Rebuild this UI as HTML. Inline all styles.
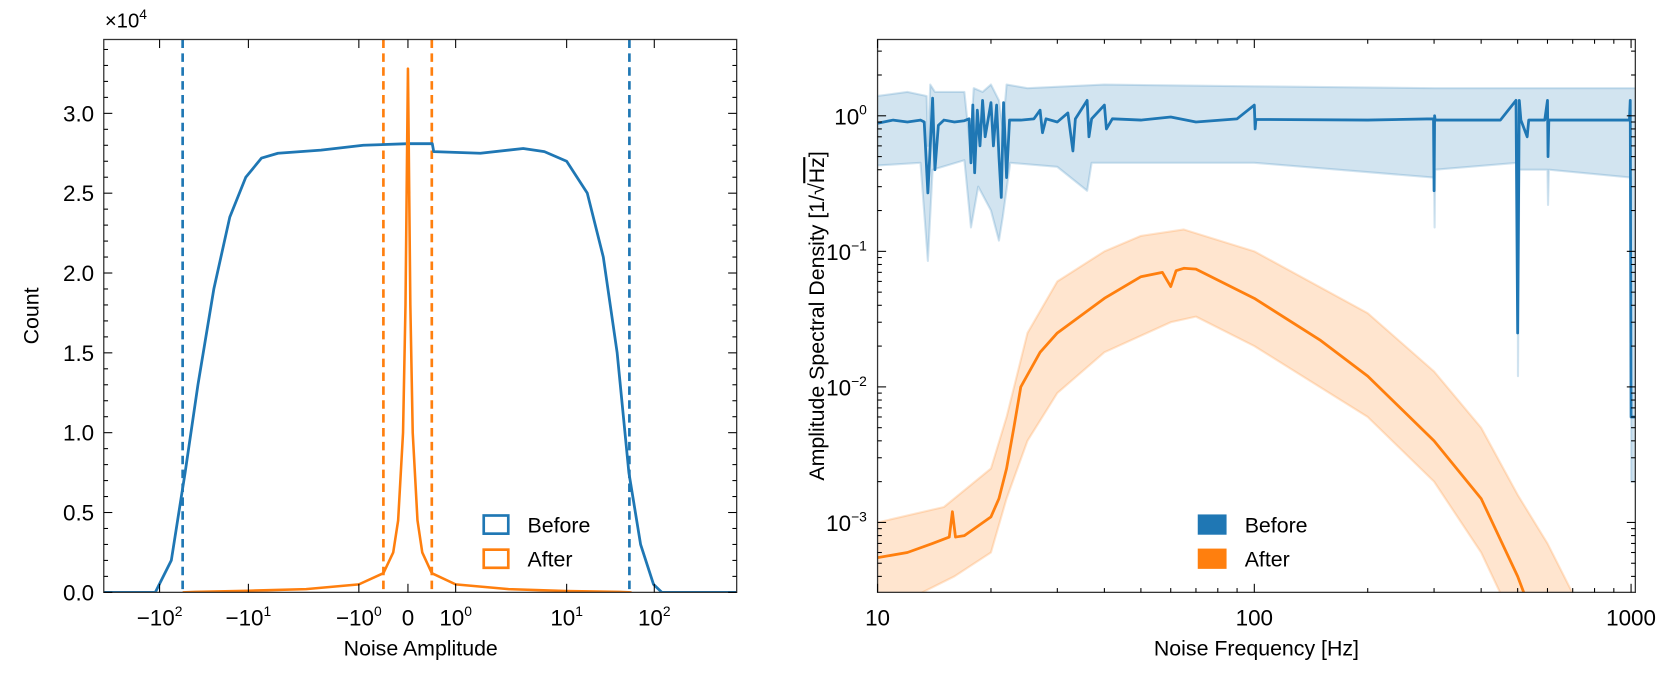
<!DOCTYPE html>
<html><head><meta charset="utf-8"><style>
html,body{margin:0;padding:0;background:#fff;}
svg{display:block;font-family:"Liberation Sans",sans-serif;}
</style></head><body>
<svg id="fig" width="1674" height="682" viewBox="0 0 1568 639" xmlns="http://www.w3.org/2000/svg">
<g id="left"></g>
<g id="right"></g>
</svg>
<script>
// ---------- Left chart data ----------
const histTickVals = [-100, -10, -1, 0, 1, 10, 100];
const histTickLabels = ["\u221210<tspan dy='-9' font-size='13'>2</tspan>", "\u221210<tspan dy='-9' font-size='13'>1</tspan>", "\u221210<tspan dy='-9' font-size='13'>0</tspan>", "0", "10<tspan dy='-9' font-size='13'>0</tspan>", "10<tspan dy='-9' font-size='13'>1</tspan>", "10<tspan dy='-9' font-size='13'>2</tspan>"];
const countTicks = [0, 0.5, 1.0, 1.5, 2.0, 2.5, 3.0];
const beforeX = [-430, -112, -73.8, -51.6, -37, -24.5, -16.2, -10.7, -7.6, -5.4, -2.2, -0.91, 0, 0.51, 0.54, 1.67, 4.06, 6.3, 10, 17.2, 26.2, 37.7, 51.3, 69.8, 98, 122, 870];
const beforeCount = [0, 0, 0.2, 0.75, 1.3, 1.9, 2.35, 2.6, 2.72, 2.75, 2.77, 2.8, 2.81, 2.81, 2.76, 2.75, 2.78, 2.76, 2.7, 2.5, 2.1, 1.5, 0.75, 0.3, 0.05, 0, 0];
const afterX = [-55, -40, -10, -3, -1, -0.5, -0.3, -0.2, -0.1, -0.05, -0.02, 0, 0.02, 0.05, 0.1, 0.2, 0.3, 0.5, 1, 3, 10, 40, 55];
const afterCount = [0, 0.003, 0.01, 0.02, 0.05, 0.12, 0.25, 0.45, 1.0, 1.8, 2.7, 3.28, 2.7, 1.8, 1.0, 0.45, 0.25, 0.12, 0.05, 0.02, 0.008, 0.003, 0];
const beforeLimits = [-55, 52];
const afterLimits = [-0.5, 0.5];

// ---------- Right chart data ----------
const freqTicks = [10, 100, 1000];
const asdTickExp = [0, -1, -2, -3];
const beforeF = [10,11,12,13,13.3,13.6,13.8,14,14.2,14.5,15,16,17,17.5,17.7,17.9,18.1,18.4,18.7,19,19.3,19.6,20,20.3,20.7,21,21.3,21.6,22,22.4,24,26,27,27.4,28,30,32,33,33.5,36,36.4,37,40,40.5,42,50,60,70,90,100,100.5,101,200,299,300,301,302,450,495,500,505,510,530,535,590,600,602,605,990,995,1000,1026];
const beforeASD = [0.88,0.93,0.9,0.93,0.9,0.27,0.6,1.35,0.4,0.85,0.93,0.9,0.92,0.95,0.45,1.2,0.38,1.1,0.6,1.3,0.7,0.9,1.25,0.6,1.2,0.5,0.25,1.25,0.35,0.93,0.93,0.95,1.1,0.75,0.95,0.9,1.05,0.55,0.95,1.3,0.7,0.95,1.2,0.8,0.95,0.93,0.98,0.9,0.95,1.2,0.8,0.94,0.93,0.95,0.28,1.0,0.93,0.93,1.3,0.025,1.3,0.93,0.7,0.93,0.93,1.3,0.5,0.93,0.93,1.3,0.006,0.006];
const beforeUpF = [10,12,13.5,13.6,13.8,14.2,17,17.6,18,19,20,21,21.5,22,25,40,100,300,500,1000,1026];
const beforeUp = [1.4,1.5,1.4,0.6,1.7,1.5,1.5,0.6,1.6,1.5,1.7,1.3,0.8,1.7,1.6,1.7,1.65,1.6,1.6,1.6,1.6];
const beforeLoF = [10,13,13.6,14,17,17.7,18.5,20,21,21.5,22.5,30,36,37,100,300,301,302,500,501,505,600,602,605,1000,1001,1026];
const beforeLo = [0.43,0.45,0.085,0.4,0.47,0.15,0.3,0.2,0.12,0.18,0.45,0.42,0.28,0.45,0.45,0.35,0.15,0.4,0.45,0.012,0.4,0.4,0.22,0.4,0.35,0.002,0.002];
const afterF = [10,12,14,15.5,15.8,16.1,17,20,21,22,23,24,27,30,40,50,57,60,62,65,70,100,150,200,300,400,500,520];
const afterASD = [0.00055,0.0006,0.0007,0.00078,0.0012,0.00078,0.0008,0.0011,0.0015,0.0025,0.005,0.01,0.018,0.025,0.045,0.065,0.07,0.055,0.072,0.075,0.074,0.045,0.022,0.012,0.004,0.0015,0.0004,0.0003];
const afterUpF = [10,15,20,22,25,30,40,50,65,100,200,300,400,500,600,700];
const afterUp = [0.001,0.0013,0.0025,0.006,0.025,0.06,0.1,0.13,0.145,0.1,0.035,0.013,0.005,0.0016,0.0007,0.0003];
const afterLoF = [10,13,16,20,22,25,30,40,60,70,100,200,300,400,450];
const afterLo = [0.0003,0.0003,0.0004,0.0006,0.0015,0.004,0.009,0.018,0.03,0.033,0.02,0.006,0.002,0.0006,0.0003];

const NS = "http://www.w3.org/2000/svg";
const BLUE = "#1f77b4", ORANGE = "#ff7f0e";
const TICK_FS = 21, TITLE_FS = 20;
function mk(parent, tag, attrs) {
  const e = document.createElementNS(NS, tag);
  for (const k in attrs) e.setAttribute(k, attrs[k]);
  parent.appendChild(e);
  return e;
}

// ----- left axes -----
const L = {x0: 97, x1: 690, y0: 37, y1: 555};
const anchorsV = [-100, -10, -1, 0, 1, 10, 100];
const anchorsP = [149.3, 232.5, 336, 382, 426.7, 530.7, 612.8];
function xL(v) {
  if (v <= -100) return 149.3 - 82 * Math.log10(-v / 100);
  if (v >= 100) return 612.8 + 82 * Math.log10(v / 100);
  for (let i = 0; i < anchorsV.length - 1; i++) {
    const a = anchorsV[i], b = anchorsV[i + 1];
    if (v >= a && v <= b) {
      const pa = anchorsP[i], pb = anchorsP[i + 1];
      let t;
      if (a >= -1 && b <= 1) t = (v - a) / (b - a);
      else if (b <= -1) t = (Math.log10(-a) - Math.log10(-v)) / (Math.log10(-a) - Math.log10(-b));
      else t = (Math.log10(v) - Math.log10(a)) / (Math.log10(b) - Math.log10(a));
      return pa + t * (pb - pa);
    }
  }
}
function yL(c) { return 555 - c * 149.6; }

const gl = document.getElementById('left');
const cpl = mk(gl, 'clipPath', {id: 'clipL'});
mk(cpl, 'rect', {x: L.x0, y: L.y0, width: L.x1 - L.x0, height: L.y1 - L.y0});
const glc = mk(gl, 'g', {'clip-path': 'url(#clipL)'});

for (const v of beforeLimits) {
  const l = mk(glc, 'line', {x1: xL(v), x2: xL(v), y1: L.y0, y2: L.y1, stroke: BLUE, 'stroke-width': 2.5, 'stroke-dasharray': '8,5'});
  
  
}
for (const v of afterLimits) {
  const l = mk(glc, 'line', {x1: xL(v), x2: xL(v), y1: L.y0, y2: L.y1, stroke: ORANGE, 'stroke-width': 2.5, 'stroke-dasharray': '8,5'});
  
  
}
function poly(parent, xs, ys, fx, fy, color, w) {
  const pts = xs.map((x, i) => fx(x).toFixed(2) + ',' + fy(ys[i]).toFixed(2)).join(' ');
  return mk(parent, 'polyline', {points: pts, fill: 'none', stroke: color, 'stroke-width': w, 'stroke-linejoin': 'round'});
}
const pb = poly(glc, beforeX, beforeCount, xL, yL, BLUE, 2.6);


const pa = poly(glc, afterX, afterCount, xL, yL, ORANGE, 2.4);



const fl = mk(gl, 'rect', {x: L.x0, y: L.y0, width: L.x1 - L.x0, height: L.y1 - L.y0, fill: 'none', stroke: '#333', 'stroke-width': 1.2});


histTickVals.forEach((v, i) => {
  const x = xL(v);
  mk(gl, 'line', {x1: x, x2: x, y1: L.y1, y2: L.y1 - 8, stroke: '#000', 'stroke-width': 1});
  mk(gl, 'line', {x1: x, x2: x, y1: L.y0, y2: L.y0 + 8, stroke: '#000', 'stroke-width': 1});
  const t = mk(gl, 'text', {x: x, y: 586, 'text-anchor': 'middle', 'font-size': TICK_FS});
  t.innerHTML = histTickLabels[i];
  
  
});
for (let k = 0; k <= 34; k++) {
  const c = k / 10, y = yL(c), major = k % 5 === 0;
  const len = major ? 8 : 4;
  mk(gl, 'line', {x1: L.x0, x2: L.x0 + len, y1: y, y2: y, stroke: '#000', 'stroke-width': 1});
  mk(gl, 'line', {x1: L.x1, x2: L.x1 - len, y1: y, y2: y, stroke: '#000', 'stroke-width': 1});
}
countTicks.forEach(c => {
  const t = mk(gl, 'text', {x: 88, y: yL(c) + 7.5, 'text-anchor': 'end', 'font-size': TICK_FS});
  t.textContent = c.toFixed(1);
  
  
});
const off = mk(gl, 'text', {x: 98, y: 26, 'font-size': 19});
off.innerHTML = "\u00d710<tspan dy='-8' font-size='13'>4</tspan>";


const ylab = mk(gl, 'text', {x: 0, y: 0, 'font-size': TITLE_FS, 'text-anchor': 'middle', transform: 'translate(36,296) rotate(-90)'});
ylab.textContent = 'Count';


const xlab = mk(gl, 'text', {x: 394, y: 614, 'font-size': TITLE_FS, 'text-anchor': 'middle'});
xlab.textContent = 'Noise Amplitude';


const legL = mk(gl, 'g', {});


[['Before', BLUE, 483], ['After', ORANGE, 515]].forEach(([n, c, y]) => {
  const g = mk(legL, 'g', {});
  
  
  mk(g, 'rect', {x: 453, y: y, width: 23, height: 17, fill: 'none', stroke: c, 'stroke-width': 2.5});
  const t = mk(g, 'text', {x: 494, y: y + 16, 'font-size': TITLE_FS});
  t.textContent = n;
});

// ----- right axes -----
const R = {x0: 822, x1: 1532, y0: 37, y1: 555};
function xR(f) { return 822 + 353 * Math.log10(f / 10); }
function yR(v) { return 108.5 - 127 * Math.log10(v); }
const gr = document.getElementById('right');
const cp = mk(gr, 'clipPath', {id: 'clipR'});
mk(cp, 'rect', {x: R.x0, y: R.y0, width: R.x1 - R.x0, height: R.y1 - R.y0});
const grc = mk(gr, 'g', {'clip-path': 'url(#clipR)'});
function band(parent, fu, vu, fl2, vl, color, name) {
  const up = fu.map((f, i) => xR(f).toFixed(2) + ',' + yR(vu[i]).toFixed(2));
  const lo = fl2.map((f, i) => xR(f).toFixed(2) + ',' + yR(vl[i]).toFixed(2)).reverse();
  const p = mk(parent, 'polygon', {points: up.concat(lo).join(' '), fill: color, 'fill-opacity': 0.2, stroke: 'none'});
  
  
  const e1 = poly(parent, fu, vu, xR, yR, color, 2);
  e1.setAttribute('stroke-opacity', 0.2);
  const e2 = poly(parent, fl2, vl, xR, yR, color, 2);
  e2.setAttribute('stroke-opacity', 0.2);
}
band(grc, beforeUpF, beforeUp, beforeLoF, beforeLo, BLUE, 'before-band');
band(grc, afterUpF, afterUp, afterLoF, afterLo, ORANGE, 'after-band');
const lb = poly(grc, beforeF, beforeASD, xR, yR, BLUE, 2.6);


const la = poly(grc, afterF, afterASD, xR, yR, ORANGE, 2.6);



const fr = mk(gr, 'rect', {x: R.x0, y: R.y0, width: R.x1 - R.x0, height: R.y1 - R.y0, fill: 'none', stroke: '#333', 'stroke-width': 1.2});


for (let d = 10; d <= 100; d *= 10) {
  for (let m = 1; m <= 9; m++) {
    const f = d * m;
    const x = xR(f), len = m === 1 ? 8 : 4;
    mk(gr, 'line', {x1: x, x2: x, y1: R.y1, y2: R.y1 - len, stroke: '#000', 'stroke-width': 1});
    mk(gr, 'line', {x1: x, x2: x, y1: R.y0, y2: R.y0 + len, stroke: '#000', 'stroke-width': 1});
  }
}
[xR(1000)].forEach(x => {
  mk(gr, 'line', {x1: x, x2: x, y1: R.y1, y2: R.y1 - 8, stroke: '#000', 'stroke-width': 1});
  mk(gr, 'line', {x1: x, x2: x, y1: R.y0, y2: R.y0 + 8, stroke: '#000', 'stroke-width': 1});
});
freqTicks.forEach(f => {
  const t = mk(gr, 'text', {x: xR(f), y: 586, 'text-anchor': 'middle', 'font-size': TICK_FS});
  t.textContent = String(f);
  
  
});
for (let e = -4; e <= 0; e++) {
  for (let m = 1; m <= 9; m++) {
    const v = m * Math.pow(10, e), y = yR(v);
    if (y < R.y0 || y > R.y1) continue;
    const len = m === 1 ? 8 : 4;
    mk(gr, 'line', {x1: R.x0, x2: R.x0 + len, y1: y, y2: y, stroke: '#000', 'stroke-width': 1});
    mk(gr, 'line', {x1: R.x1, x2: R.x1 - len, y1: y, y2: y, stroke: '#000', 'stroke-width': 1});
  }
}
asdTickExp.forEach(e => {
  const t = mk(gr, 'text', {x: 812, y: yR(Math.pow(10, e)) + 8, 'text-anchor': 'end', 'font-size': TICK_FS});
  t.innerHTML = "10<tspan dy='-9' font-size='13'>" + (e === 0 ? "0" : "\u2212" + (-e)) + "</tspan>";
  
  
});
const ylr = mk(gr, 'text', {x: 0, y: 0, 'font-size': TITLE_FS, 'text-anchor': 'middle', transform: 'translate(772,296) rotate(-90)'});
ylr.innerHTML = "Amplitude Spectral Density [1/\u221a<tspan text-decoration='overline'>Hz</tspan>]";


const xlr = mk(gr, 'text', {x: 1177, y: 614, 'font-size': TITLE_FS, 'text-anchor': 'middle'});
xlr.textContent = 'Noise Frequency [Hz]';


const legR = mk(gr, 'g', {});


[['Before', BLUE, 482], ['After', ORANGE, 514]].forEach(([n, c, y]) => {
  const g = mk(legR, 'g', {});
  
  
  mk(g, 'rect', {x: 1122, y: y, width: 27, height: 19, fill: c});
  const t = mk(g, 'text', {x: 1166, y: y + 17, 'font-size': TITLE_FS});
  t.textContent = n;
});
</script>
</body></html>
